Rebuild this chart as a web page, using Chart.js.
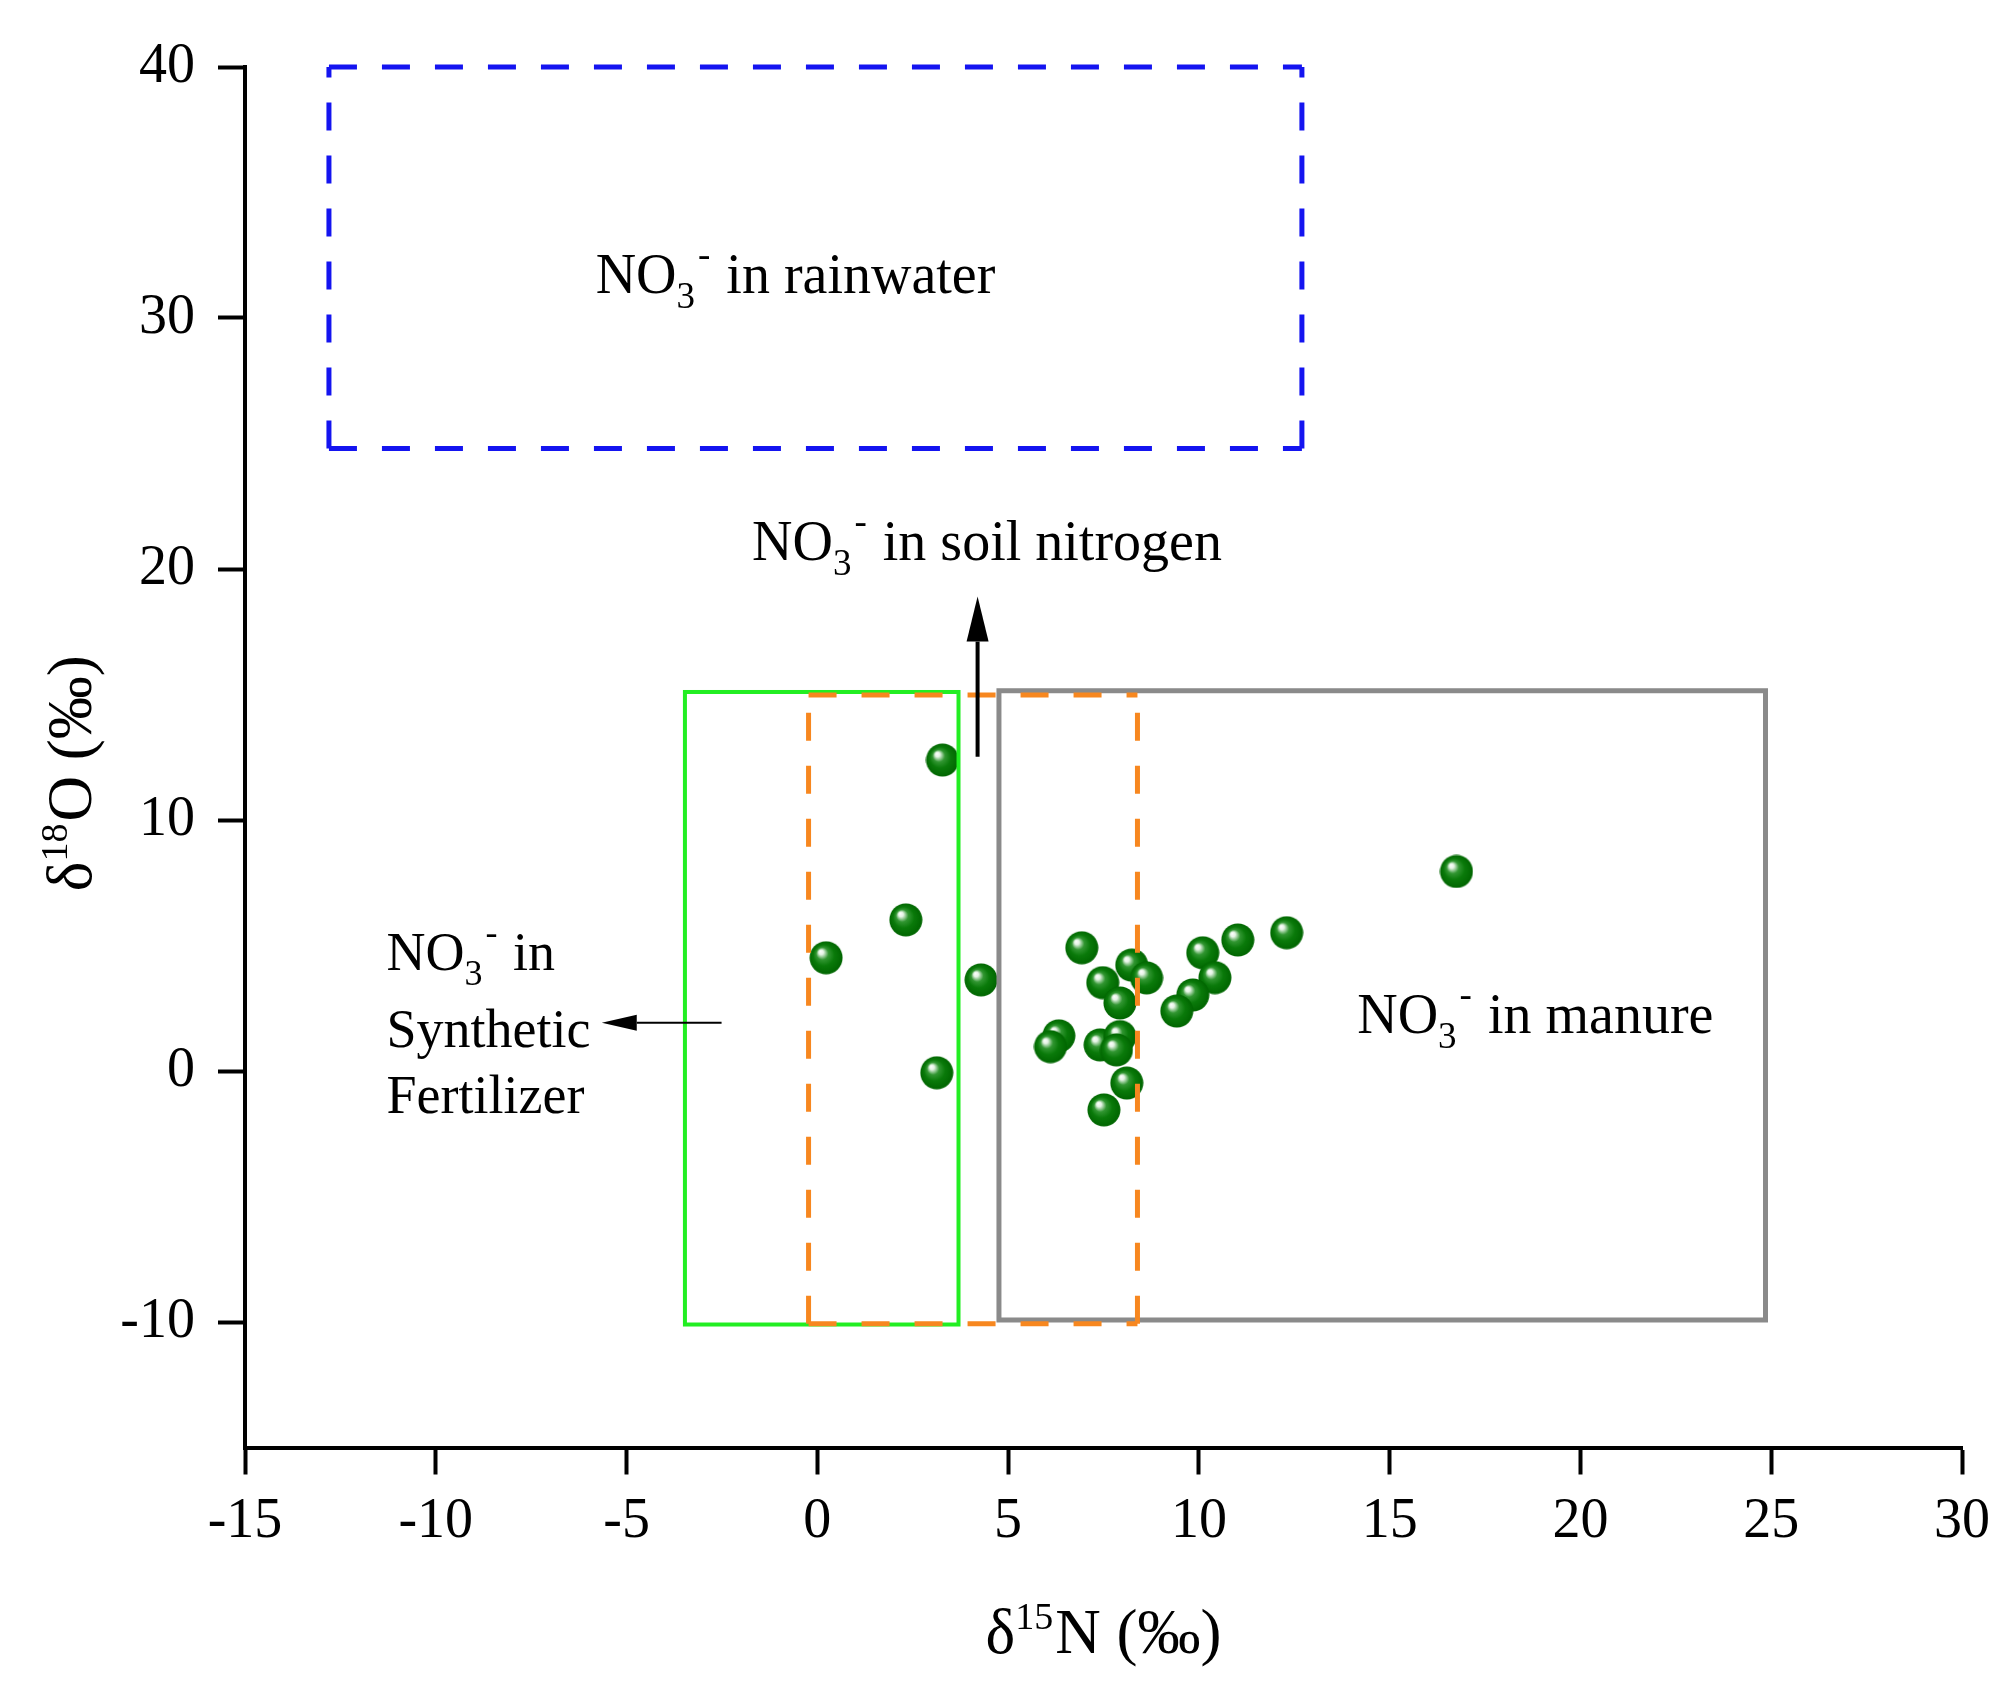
<!DOCTYPE html>
<html>
<head>
<meta charset="utf-8">
<script src="https://cdn.jsdelivr.net/npm/chart.js@4.4.1/dist/chart.umd.min.js"></script>
<style>
  html, body { margin: 0; padding: 0; background: #fff; }
  #wrap { width: 2016px; height: 1693px; }
</style>
</head>
<body>
<div id="wrap"><canvas id="chart"></canvas></div>
<script>
// sample values (per mil)
const d15N = [3.28, 2.32, 0.23, 4.29, 3.13, 6.93, 8.24, 8.63, 7.48, 7.93, 10.10, 11.02,
  12.30, 16.75, 10.42, 9.84, 9.42, 6.33, 6.11, 7.41, 7.93, 7.84, 8.11, 7.51];
const d18O = [12.39, 6.02, 4.51, 3.63, -0.07, 4.91, 4.22, 3.71, 3.52, 2.71, 4.71, 5.22,
  5.51, 7.95, 3.72, 3.03, 2.39, 1.40, 0.97, 1.04, 1.37, 0.84, -0.48, -1.55];

const xTicks = [-15, -10, -5, 0, 5, 10, 15, 20, 25, 30];
const yTicks = [-10, 0, 10, 20, 30, 40];

// source ranges: [xMin, xMax, yMin, yMax]
const rainwaterBox = [-12.8, 12.7, 24.8, 40];
const fertilizerBox = [-3.47, 3.7, -10.1, 15.1];
const soilBox = [-0.23, 8.39, -10.07, 14.98];
const manureBox = [4.76, 24.85, -9.92, 15.15];

// arrows: [xFrom, yFrom, xTo, yTo]
const soilArrow = [4.2, 12.52, 4.2, 18.9];
const fertArrow = [-2.51, 1.92, -5.65, 1.92];

const FONT = '"Liberation Serif", "Times New Roman", serif';
Chart.defaults.font.family = FONT;
Chart.defaults.color = '#000';

function makeBall(r) {
  const c = document.createElement('canvas');
  c.width = c.height = r * 2;
  const g = c.getContext('2d');
  const grad = g.createRadialGradient(r * 0.66, r * 0.62, 0, r, r, r);
  grad.addColorStop(0, '#ffffff');
  grad.addColorStop(0.14, '#e6f4e6');
  grad.addColorStop(0.36, '#329632');
  grad.addColorStop(0.62, '#0a7a0a');
  grad.addColorStop(1, '#006400');
  g.fillStyle = grad;
  g.beginPath();
  g.arc(r, r, r - 0.5, 0, Math.PI * 2);
  g.fill();
  return c;
}
const ball = makeBall(17);

function drawNO3(ctx, x, y, rest, size) {
  const small = Math.round(size * 0.66);
  ctx.font = size + 'px ' + FONT;
  ctx.fillText('NO', x, y);
  let cx = x + ctx.measureText('NO').width;
  ctx.font = small + 'px ' + FONT;
  ctx.fillText('3', cx, y + 15);
  cx += ctx.measureText('3').width + 3;
  ctx.fillText('-', cx, y - 26);
  cx += ctx.measureText('-').width + 2;
  ctx.font = size + 'px ' + FONT;
  ctx.fillText(rest, cx, y);
}

function drawDelta(ctx, cx, y, sup, rest) {
  ctx.font = '63px ' + FONT;
  const w1 = ctx.measureText('\u03b4').width;
  const w3 = ctx.measureText(rest).width;
  ctx.font = '38px ' + FONT;
  const w2 = ctx.measureText(sup).width + 2;
  let x = cx - (w1 + w2 + w3) / 2;
  ctx.font = '63px ' + FONT;
  ctx.fillText('\u03b4', x, y);
  x += w1;
  ctx.font = '38px ' + FONT;
  ctx.fillText(sup, x, y - 24);
  x += w2;
  ctx.font = '63px ' + FONT;
  ctx.fillText(rest, x, y);
}

function dashedBox(ctx, sx, sy, box, color, width, dash) {
  const l = sx.getPixelForValue(box[0]), r = sx.getPixelForValue(box[1]);
  const b = sy.getPixelForValue(box[2]), t = sy.getPixelForValue(box[3]);
  ctx.strokeStyle = color;
  ctx.lineWidth = width;
  ctx.setLineDash(dash);
  [[l, b, l, t], [l, t, r, t], [l, b, r, b], [r, b, r, t]].forEach((s) => {
    ctx.beginPath();
    ctx.moveTo(s[0], s[1]);
    ctx.lineTo(s[2], s[3]);
    ctx.stroke();
  });
  ctx.setLineDash([]);
}

function solidBox(ctx, sx, sy, box, color, width) {
  const l = sx.getPixelForValue(box[0]), r = sx.getPixelForValue(box[1]);
  const b = sy.getPixelForValue(box[2]), t = sy.getPixelForValue(box[3]);
  ctx.strokeStyle = color;
  ctx.lineWidth = width;
  ctx.strokeRect(l, t, r - l, b - t);
}

function arrow(ctx, sx, sy, a, width, headLen, headHalf) {
  const x1 = sx.getPixelForValue(a[0]), y1 = sy.getPixelForValue(a[1]);
  const x2 = sx.getPixelForValue(a[2]), y2 = sy.getPixelForValue(a[3]);
  const ang = Math.atan2(y2 - y1, x2 - x1);
  const bx = x2 - Math.cos(ang) * headLen, by = y2 - Math.sin(ang) * headLen;
  ctx.strokeStyle = '#000';
  ctx.fillStyle = '#000';
  ctx.lineWidth = width;
  ctx.beginPath();
  ctx.moveTo(x1, y1);
  ctx.lineTo(bx, by);
  ctx.stroke();
  ctx.beginPath();
  ctx.moveTo(x2, y2);
  ctx.lineTo(bx + Math.sin(ang) * headHalf, by - Math.cos(ang) * headHalf);
  ctx.lineTo(bx - Math.sin(ang) * headHalf, by + Math.cos(ang) * headHalf);
  ctx.closePath();
  ctx.fill();
}

const sourcePlugin = {
  id: 'sources',
  afterDatasetsDraw(chart) {
    const ctx = chart.ctx;
    const sx = chart.scales.x, sy = chart.scales.y;
    const area = chart.chartArea;
    ctx.save();
    dashedBox(ctx, sx, sy, rainwaterBox, '#1414f0', 5, [28, 25]);
    solidBox(ctx, sx, sy, fertilizerBox, '#22ee22', 4);
    solidBox(ctx, sx, sy, manureBox, '#8a8a8a', 5);
    dashedBox(ctx, sx, sy, soilBox, '#f7871f', 5, [28, 25]);
    arrow(ctx, sx, sy, soilArrow, 4, 45, 11);
    arrow(ctx, sx, sy, fertArrow, 2, 35, 8);

    ctx.fillStyle = '#000';
    ctx.textAlign = 'left';
    ctx.textBaseline = 'alphabetic';
    drawNO3(ctx, sx.getPixelForValue(-5.81), sy.getPixelForValue(31.0), ' in rainwater', 56);
    drawNO3(ctx, sx.getPixelForValue(-1.71), sy.getPixelForValue(20.36), ' in soil nitrogen', 56);
    drawNO3(ctx, sx.getPixelForValue(14.15), sy.getPixelForValue(1.52), ' in manure', 56);
    const fx = sx.getPixelForValue(-11.29);
    drawNO3(ctx, fx, sy.getPixelForValue(4.02), ' in', 54);
    ctx.font = '54px ' + FONT;
    ctx.fillText('Synthetic', fx, sy.getPixelForValue(0.97));
    ctx.fillText('Fertilizer', fx, sy.getPixelForValue(-1.67));

    // axis titles
    drawDelta(ctx, (area.left + area.right) / 2, area.bottom + 205.5, '15', 'N (\u2030)');
    ctx.translate(area.left - 154, (area.top + area.bottom) / 2 + 16);
    ctx.rotate(-Math.PI / 2);
    drawDelta(ctx, 0, 0, '18', 'O (\u2030)');
    ctx.restore();
  }
};

const axisGrid = { drawOnChartArea: false, drawTicks: true, tickLength: 27, tickWidth: 4, tickColor: '#000' };
const axisBorder = { display: true, color: '#000', width: 4 };

new Chart(document.getElementById('chart'), {
  type: 'scatter',
  data: {
    datasets: [{
      data: d15N.map((x, i) => ({ x: x, y: d18O[i] })),
      pointStyle: ball,
      pointRadius: 17,
      pointHoverRadius: 17,
      clip: false
    }]
  },
  options: {
    responsive: true,
    maintainAspectRatio: false,
    devicePixelRatio: 1,
    animation: false,
    events: [],
    layout: { padding: { top: 67, right: 54, left: 0, bottom: 0 } },
    plugins: { legend: { display: false }, tooltip: { enabled: false } },
    scales: {
      x: {
        type: 'linear',
        min: -15,
        max: 30,
        afterBuildTicks: (s) => { s.ticks = xTicks.map((v) => ({ value: v })); },
        afterFit: (s) => { s.height = 245.5; },
        grid: axisGrid,
        border: axisBorder,
        ticks: { color: '#000', font: { size: 56 }, padding: 14, maxRotation: 0, autoSkip: false, callback: (v) => String(v) }
      },
      y: {
        type: 'linear',
        min: -15,
        max: 40,
        afterBuildTicks: (s) => { s.ticks = yTicks.map((v) => ({ value: v })); },
        afterFit: (s) => { s.width = 245; },
        grid: axisGrid,
        border: axisBorder,
        ticks: { color: '#000', font: { size: 56 }, padding: 23, autoSkip: false, callback: (v) => String(v) }
      }
    }
  },
  plugins: [sourcePlugin]
});
</script>
</body>
</html>
